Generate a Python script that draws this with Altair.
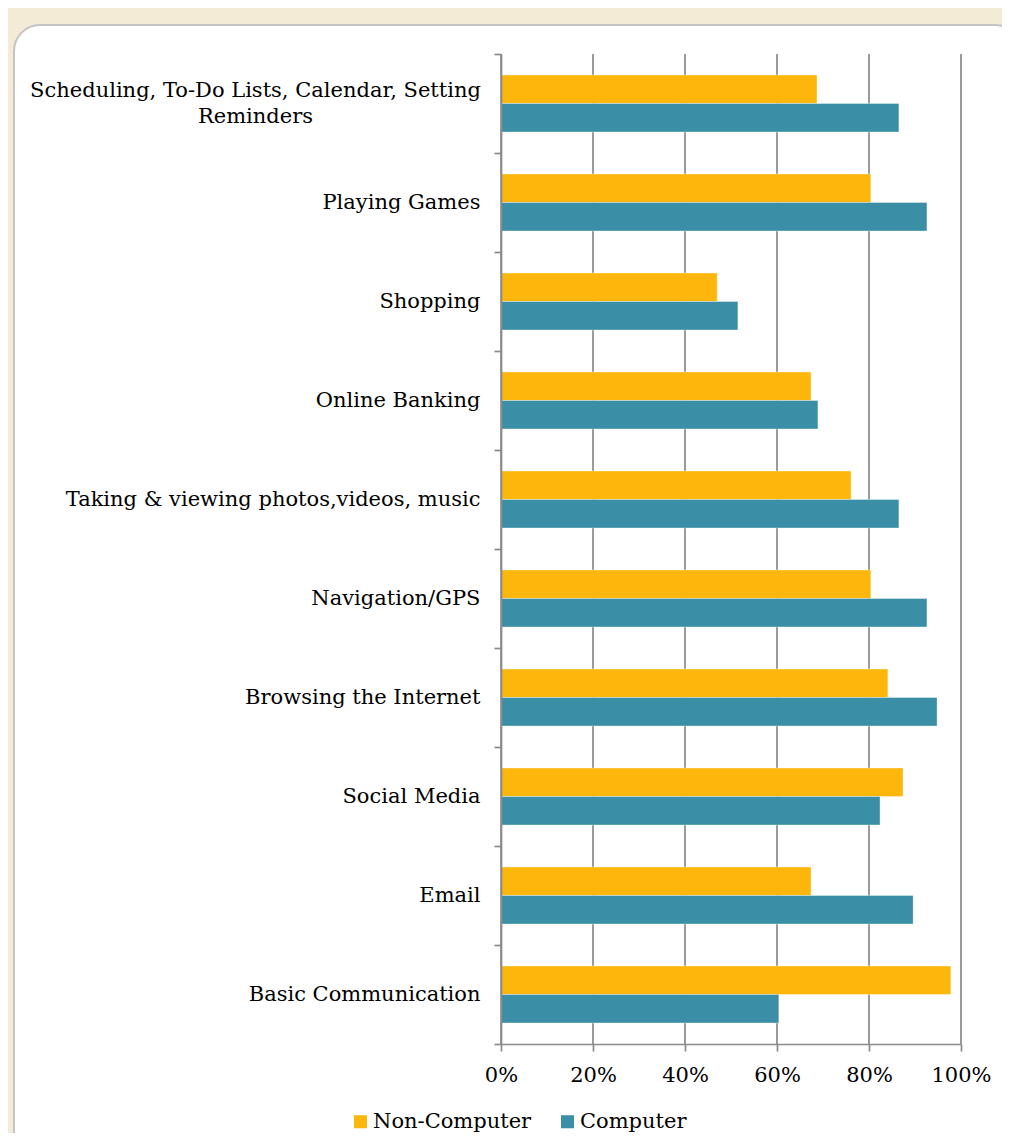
import altair as alt
import pandas as pd

categories = [
    "Scheduling, To-Do Lists, Calendar, Setting Reminders",
    "Playing Games",
    "Shopping",
    "Online Banking",
    "Taking & viewing photos,videos, music",
    "Navigation/GPS",
    "Browsing the Internet",
    "Social Media",
    "Email",
    "Basic Communication",
]
non_computer = [0.687, 0.804, 0.470, 0.674, 0.761, 0.804, 0.841, 0.874, 0.674, 0.978]
computer = [0.865, 0.926, 0.515, 0.689, 0.865, 0.926, 0.948, 0.824, 0.896, 0.604]
series = ["Non-Computer", "Computer"]
colors = ["#FDB60C", "#3A8FA7"]
tick_values = [0, 0.2, 0.4, 0.6, 0.8, 1.0]

rows = []
for c, a, b in zip(categories, non_computer, computer):
    rows.append({"category": c, "series": series[0], "value": a})
    rows.append({"category": c, "series": series[1], "value": b})
df = pd.DataFrame(rows)

FONT = "DejaVu Serif"
GRAY = "#8a8a8a"

long_label = categories[0]
first_line = "Scheduling, To-Do Lists, Calendar, Setting"
second_line = "Reminders"
label_expr = (
    f"datum.label == '{long_label}' ? ['{first_line}', '{second_line}'] : datum.label"
)
is_long = f"datum.value == '{long_label}'"

xscale = alt.Scale(domain=[0, 1], nice=False)
x_axis = alt.Axis(
    format=".0%",
    values=tick_values,
    grid=False,
    title=None,
    tickSize=7,
    tickColor=GRAY,
    tickWidth=1.7,
    domainColor=GRAY,
    domainWidth=1.7,
    labelFont=FONT,
    labelFontSize=21,
    labelColor="black",
    labelPadding=13,
    labelFlush=False,
    zindex=2,
)

card = alt.Chart(pd.DataFrame({"k": [0]})).mark_rect(
    color="white", cornerRadius=26, stroke="#c4c4c4", strokeWidth=2
).encode(
    x=alt.value(-487), x2=alt.value(520), y=alt.value(-29), y2=alt.value(1140)
)

grid = alt.Chart(pd.DataFrame({"t": tick_values})).mark_rule(
    color=GRAY, strokeWidth=1.7
).encode(x=alt.X("t:Q", scale=xscale, axis=x_axis))

bars = alt.Chart(df).mark_bar(stroke="white", strokeWidth=0.6, strokeOpacity=0.6).encode(
    x=alt.X("value:Q", scale=xscale, axis=x_axis),
    y=alt.Y(
        "category:N",
        sort=categories,
        scale=alt.Scale(paddingInner=0, paddingOuter=0),
        axis=alt.Axis(
            title=None,
            tickBand="extent",
            tickSize=7,
            tickColor=GRAY,
            tickWidth=1.7,
            domainColor=GRAY,
            domainWidth=1.7,
            labelFont=FONT,
            labelFontSize=21,
            labelColor="black",
            labelAlign={"condition": {"test": is_long, "value": "center"}, "value": "right"},
            labelPadding={"condition": {"test": is_long, "value": 239}, "value": 14},
            labelOffset={"condition": {"test": is_long, "value": -13}, "value": 0},
            labelLimit=600,
            labelLineHeight=26,
            labelExpr=label_expr,
            zindex=2,
        ),
    ),
    yOffset=alt.YOffset(
        "series:N", sort=series, scale=alt.Scale(paddingInner=0, paddingOuter=0.737)
    ),
    color=alt.Color(
        "series:N",
        sort=series,
        scale=alt.Scale(domain=series, range=colors),
        legend=alt.Legend(
            title=None,
            orient="none",
            direction="horizontal",
            legendX=-151,
            legendY=1057,
            symbolType="square",
            symbolSize=170,
            symbolStrokeWidth=0,
            labelFont=FONT,
            labelFontSize=21,
            labelColor="black",
            labelOffset=2,
            columnPadding=25,
            labelLimit=400,
            zindex=2,
        ),
    ),
)

chart = (
    alt.layer(card, grid, bars)
    .properties(
        width=460,
        height=990,
        background="#F3EBD6",
        padding={"left": 493, "top": 46, "right": 41, "bottom": 89},
        autosize=alt.AutoSizeParams(type="none"),
    )
    .configure_view(stroke=None)
)

chart.save("out.html", embed_options={"renderer": "svg", "actions": False})
